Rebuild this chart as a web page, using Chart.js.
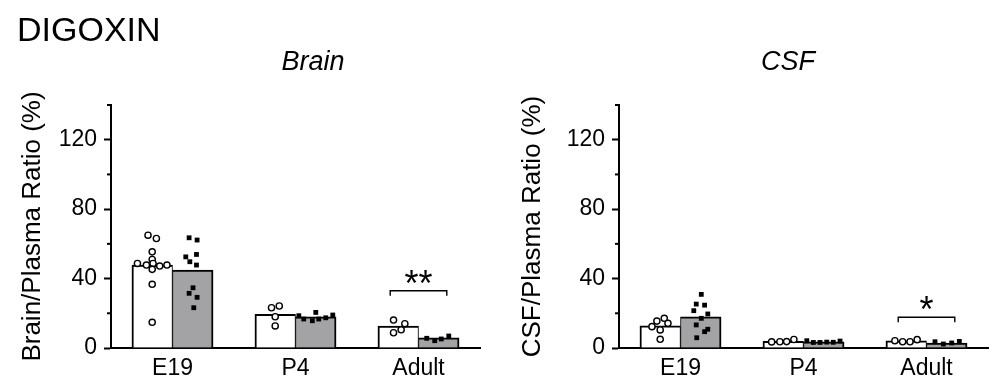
<!DOCTYPE html>
<html>
<head>
<meta charset="utf-8">
<title>Digoxin brain / CSF ratios</title>
<script src="https://cdn.jsdelivr.net/npm/chart.js@4.4.1/dist/chart.umd.min.js"></script>
<style>
  html, body { margin: 0; padding: 0; background: #fff; }
  #wrap { position: relative; width: 1000px; height: 386px; overflow: hidden; }
  .panel { position: absolute; top: 0; width: 500px; height: 386px; }
  #brainBox { left: 0; }
  #csfBox { left: 500px; }
  .txt { position: absolute; color: #000; line-height: 1; font-family: 'Liberation Sans', Arial, sans-serif; white-space: nowrap; z-index: 2; }
  #heading { left: 17px; top: 12px; font-size: 34px; }
  .sub { width: 200px; text-align: center; top: 48px; font-size: 27px; font-style: italic; }
  #brainTitle { left: 213px; }
  #csfTitle { left: 688px; }
</style>
</head>
<body>
<div id="wrap">
  <div class="panel" id="brainBox"><canvas id="brainChart"></canvas></div>
  <div class="panel" id="csfBox"><canvas id="csfChart"></canvas></div>
  <div class="txt" id="heading">DIGOXIN</div>
  <div class="txt sub" id="brainTitle">Brain</div>
  <div class="txt sub" id="csfTitle">CSF</div>
</div>
<script>
const FONT = "'Liberation Sans', Arial, sans-serif";

// DATA
const categories = ['E19', 'P4', 'Adult'];

// bar heights (%), open = white bars, filled = grey bars
const brainOpenMean = [47.8, 19.4, 12.6];
const brainFilledMean = [44.9, 18.0, 5.8];
const csfOpenMean = [12.8, 3.9, 4.2];
const csfFilledMean = [18.0, 3.6, 2.9];

// individual points, one list per category
const brainOpenDots = [
  [65.0, 63.1, 55.4, 51.0, 48.7, 47.8, 48.7, 47.2, 47.8, 45.3, 36.7, 14.8],
  [23.2, 24.2, 18.0, 12.7],
  [16.1, 14.0, 10.5, 8.8]
];
const brainFilledDots = [
  [63.5, 62.2, 52.5, 53.9, 49.7, 47.8, 34.7, 31.5, 29.2, 23.2],
  [18.6, 16.7, 15.7, 16.7, 20.5, 17.4, 19.0],
  [5.6, 4.2, 5.2, 6.9]
];
const csfOpenDots = [
  [12.3, 15.5, 17.1, 14.2, 10.4, 5.0],
  [3.5, 3.6, 3.7, 4.9],
  [4.2, 3.6, 3.6, 4.8]
];
const csfFilledDots = [
  [30.9, 25.3, 24.7, 21.5, 19.6, 17.1, 13.3, 10.8, 9.4, 5.9],
  [4.2, 3.2, 3.2, 3.4, 3.3, 4.0],
  [3.6, 2.3, 2.9, 3.8]
];

// sideways spread of the points inside their bar (fraction of a category)
const brainOpenJitter = [
  [-0.034, 0.034, 0, 0, -0.12, -0.047, 0.007, 0.061, 0.12, 0, 0, 0],
  [-0.03, 0.033, 0, 0],
  [-0.038, 0.054, 0.024, -0.038]
];
const brainFilledJitter = [
  [-0.03, 0.035, -0.057, 0.03, -0.024, 0.03, 0.002, -0.03, 0.035, 0.008],
  [-0.138, -0.098, -0.028, 0.024, 0, 0.081, 0.138],
  [-0.098, -0.033, 0.02, 0.081]
];
const csfOpenJitter = [
  [-0.067, -0.027, 0.033, 0.063, 0, 0],
  [-0.094, -0.027, 0.028, 0.087],
  [-0.092, -0.029, 0.031, 0.089]
];
const csfFilledJitter = [
  [0.004, -0.037, 0.031, -0.057, 0.057, 0.004, -0.037, 0.057, 0.031, -0.033],
  [-0.138, -0.085, -0.031, 0.024, 0.077, 0.132],
  [-0.096, -0.028, 0.04, 0.102]
];

const yMax = 140;
const yStep = 20;
const yLabelEvery = 40;

// significance brackets
const brainSig = { category: 'Adult', level: 33, stars: '**' };
const csfSig = { category: 'Adult', level: 17.7, stars: '*' };

// CHART SETUP
const BAR_W = 0.33;          // bar width in categories
const HALF = BAR_W / 2;      // bar centre offset from category centre
const GREY = '#a3a3a6';

function dotSet(dots, jitter, side, open) {
  return {
    type: 'scatter',
    xAxisID: 'xs',
    yAxisID: 'y',
    order: 1,
    data: dots.flatMap((arr, i) => arr.map((v, k) => ({ x: i + side * HALF + jitter[i][k], y: v }))),
    pointStyle: open ? 'circle' : 'rect',
    pointRadius: open ? 3.1 : 3.4,
    pointBorderWidth: open ? 1.4 : 0,
    pointBackgroundColor: open ? '#fff' : '#000',
    pointBorderColor: '#000',
    showLine: false
  };
}

function barSet(values, side, fill, border) {
  return {
    type: 'bar',
    xAxisID: 'xs',
    yAxisID: 'y',
    order: 2,
    grouped: false,
    data: values.map((v, i) => ({ x: i + side * HALF, y: v })),
    backgroundColor: fill,
    borderColor: '#000',
    borderWidth: border,
    borderSkipped: 'start',
    categoryPercentage: 1,
    barPercentage: 1
  };
}

function makePanel(id, o) {
  // minor ticks, bracket and stars
  const marks = {
    id: 'marks',
    afterDraw(chart) {
      const { ctx, chartArea } = chart;
      const x = chart.scales.x, y = chart.scales.y;
      ctx.save();
      ctx.strokeStyle = '#000';
      ctx.lineWidth = 2;
      y.ticks.forEach(t => {
        if (t.value % yLabelEvery === 0) return;
        const py = y.getPixelForValue(t.value);
        ctx.beginPath();
        ctx.moveTo(chartArea.left - 4, py);
        ctx.lineTo(chartArea.left, py);
        ctx.stroke();
      });

      const sig = o.sig;
      const cx = x.getPixelForValue(categories.indexOf(sig.category));
      const half = x.width / categories.length * 0.23;
      const by = y.getPixelForValue(sig.level);
      ctx.lineWidth = 1.4;
      ctx.beginPath();
      ctx.moveTo(cx - half, by + 5);
      ctx.lineTo(cx - half, by);
      ctx.lineTo(cx + half, by);
      ctx.lineTo(cx + half, by + 5);
      ctx.stroke();
      ctx.fillStyle = '#000';
      ctx.font = '36px ' + FONT;
      ctx.textAlign = 'center';
      ctx.textBaseline = 'alphabetic';
      ctx.fillText(sig.stars, cx, by + 5);
      ctx.restore();
    }
  };

  return new Chart(document.getElementById(id), {
    type: 'scatter',
    data: {
      datasets: [
        barSet(o.openMean, -1, '#fff', { top: 2, left: 2, right: 1, bottom: 0 }),
        barSet(o.filledMean, 1, GREY, { top: 2, left: 1, right: 2, bottom: 0 }),
        dotSet(o.openDots, o.openJitter, -1, true),
        dotSet(o.filledDots, o.filledJitter, 1, false)
      ]
    },
    options: {
      responsive: true,
      maintainAspectRatio: false,
      animation: false,
      layout: { padding: { top: 105, right: o.padRight, left: 0, bottom: 0 } },
      plugins: { legend: { display: false }, tooltip: { enabled: false }, title: { display: false } },
      scales: {
        x: {
          type: 'category',
          labels: categories,
          offset: true,
          grid: { display: false, drawTicks: false, offset: true },
          border: { display: true, color: '#000', width: 2 },
          ticks: { color: '#000', font: { family: FONT, size: 23 }, padding: 7 },
          afterFit: s => { s.height = 38; }
        },
        xs: {
          type: 'linear',
          display: false,
          offset: false,
          grid: { offset: false },
          min: -0.5,
          max: categories.length - 0.5,
          ticks: { stepSize: 1 }
        },
        y: {
          type: 'linear',
          min: 0,
          max: yMax,
          grid: {
            drawOnChartArea: false,
            tickLength: 7,
            tickWidth: 2,
            tickColor: c => (c.tick && c.tick.value % yLabelEvery === 0 ? '#000' : 'rgba(0,0,0,0)')
          },
          border: { display: true, color: '#000', width: 2 },
          ticks: {
            stepSize: yStep,
            color: '#000',
            font: { family: FONT, size: 23 },
            padding: 7,
            callback: v => (v % yLabelEvery === 0 ? v : '')
          },
          title: {
            display: true,
            text: o.yTitle,
            color: '#000',
            font: { family: FONT, size: 26 },
            padding: { top: 17, bottom: 0 }
          },
          afterFit: s => { s.width = o.axisX; }
        }
      }
    },
    plugins: [marks]
  });
}

makePanel('brainChart', {
  yTitle: 'Brain/Plasma Ratio (%)',
  openMean: brainOpenMean, filledMean: brainFilledMean,
  openDots: brainOpenDots, filledDots: brainFilledDots,
  openJitter: brainOpenJitter, filledJitter: brainFilledJitter,
  sig: brainSig, axisX: 111, padRight: 20
});

makePanel('csfChart', {
  yTitle: 'CSF/Plasma Ratio (%)',
  openMean: csfOpenMean, filledMean: csfFilledMean,
  openDots: csfOpenDots, filledDots: csfFilledDots,
  openJitter: csfOpenJitter, filledJitter: csfFilledJitter,
  sig: csfSig, axisX: 119, padRight: 12
});
</script>
</body>
</html>
